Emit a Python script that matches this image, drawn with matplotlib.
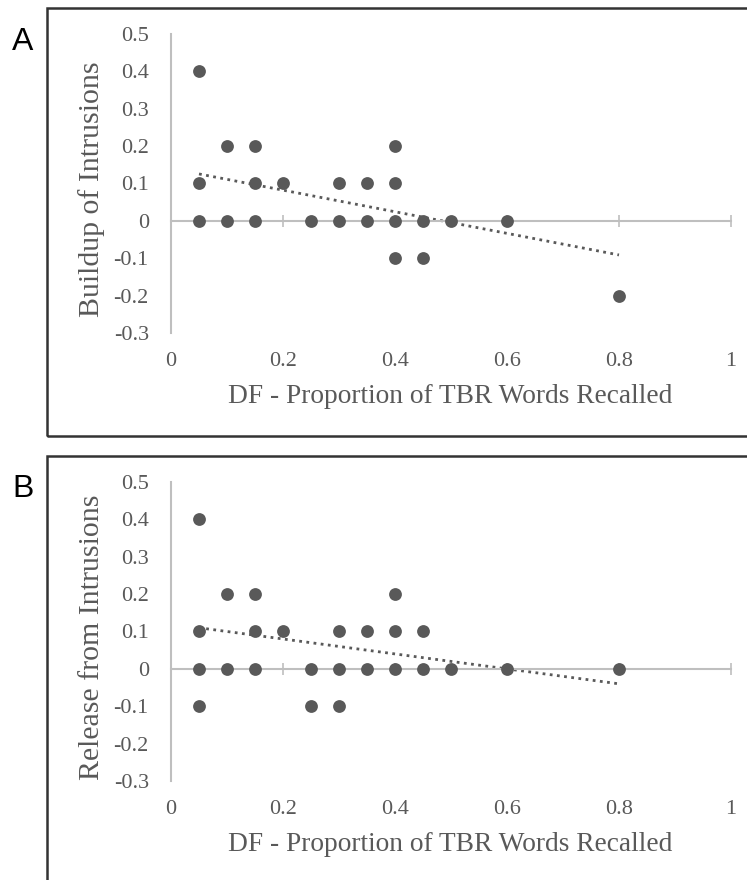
import matplotlib
matplotlib.use("Agg")
import matplotlib.pyplot as plt
from matplotlib.patches import Rectangle
import numpy as np

# Panel A: buildup of intrusions vs. DF proportion recalled
a_x = [0.05, 0.05, 0.05, 0.10, 0.10, 0.15, 0.15, 0.15, 0.20, 0.25,
       0.30, 0.30, 0.35, 0.35, 0.40, 0.40, 0.40, 0.40, 0.45, 0.45,
       0.50, 0.60, 0.80]
a_y = [0.4, 0.1, 0.0, 0.2, 0.0, 0.2, 0.1, 0.0, 0.1, 0.0,
       0.1, 0.0, 0.1, 0.0, 0.2, 0.1, 0.0, -0.1, 0.0, -0.1,
       0.0, 0.0, -0.2]
a_trend = (-0.289, 0.140)   # slope, intercept of linear trendline

# Panel B: release from intrusions vs. DF proportion recalled
b_x = [0.05, 0.05, 0.05, 0.05, 0.10, 0.10, 0.15, 0.15, 0.15, 0.20,
       0.25, 0.25, 0.30, 0.30, 0.30, 0.35, 0.35, 0.40, 0.40, 0.40,
       0.45, 0.45, 0.50, 0.60, 0.80]
b_y = [0.4, 0.1, 0.0, -0.1, 0.2, 0.0, 0.2, 0.1, 0.0, 0.1,
       0.0, -0.1, 0.1, 0.0, -0.1, 0.1, 0.0, 0.2, 0.1, 0.0,
       0.1, 0.0, 0.0, 0.0, 0.0]
b_trend = (-0.200, 0.120)

x_ticks = [0, 0.2, 0.4, 0.6, 0.8, 1]
x_tick_labels = ["0", "0.2", "0.4", "0.6", "0.8", "1"]
y_ticks = [0.5, 0.4, 0.3, 0.2, 0.1, 0, -0.1, -0.2, -0.3]
y_tick_labels = ["0.5", "0.4", "0.3", "0.2", "0.1", "0", "-0.1", "-0.2", "-0.3"]

x_label = "DF - Proportion of TBR Words Recalled"
panels = [
    ("A", "Buildup of Intrusions", a_x, a_y, a_trend),
    ("B", "Release from Intrusions", b_x, b_y, b_trend),
]

W, H = 747, 880
fig = plt.figure(figsize=(W / 100, H / 100), dpi=100)

TEXT = "#595959"
AXIS = "#bfbfbf"
MARK = "#595959"
SERIF = ["Liberation Serif", "DejaVu Serif"]

# pixel layout of each panel: (box_top, box_bottom, axes_top, axes_bottom)
layout = [
    (8.5, 436, 34, 333),
    (456, 900, 482, 781),
]
ax_left, ax_right = 171, 731


def fx(px):
    return px / W


def fy(py):
    return 1 - py / H


for (letter, ylab, xs, ys, trend), (bt, bb, at, ab) in zip(panels, layout):
    # surrounding frame
    fig.patches.append(Rectangle((fx(47), fy(bb)), fx(760 - 47), (bb - bt) / H,
                                 transform=fig.transFigure, fill=False,
                                 edgecolor="#333333", linewidth=1.8, zorder=0))
    fig.text(fx(23), fy((bt + 33)), letter, family=["Liberation Sans", "DejaVu Sans"],
             fontsize=23, color="black", ha="center", va="center")

    ax = fig.add_axes([fx(ax_left), fy(ab), fx(ax_right - ax_left), (ab - at) / H])
    ax.set_xlim(0, 1)
    ax.set_ylim(-0.3, 0.5)
    ax.patch.set_alpha(0)

    for s in ("top", "right"):
        ax.spines[s].set_visible(False)
    ax.spines["left"].set_color(AXIS)
    ax.spines["left"].set_linewidth(1.5)
    ax.spines["bottom"].set_position(("data", 0))
    ax.spines["bottom"].set_color(AXIS)
    ax.spines["bottom"].set_linewidth(1.5)

    ax.set_xticks(x_ticks)
    ax.tick_params(axis="x", direction="inout", length=9, width=1.2,
                   color=AXIS, labelbottom=False)
    ax.set_yticks(y_ticks)
    ax.set_yticklabels(y_tick_labels, family=SERIF, fontsize=16, color=TEXT)
    ax.tick_params(axis="y", length=0, pad=16)

    # x tick labels sit below the plot area
    sec = ax.secondary_xaxis(0.0)
    sec.spines["bottom"].set_visible(False)
    sec.set_xticks(x_ticks)
    sec.set_xticklabels(x_tick_labels, family=SERIF, fontsize=16, color=TEXT)
    sec.tick_params(length=0, pad=14)

    # axis titles
    fig.text(fx(450.5), fy(ab + 70), x_label, family=SERIF, fontsize=19.7,
             color=TEXT, ha="center", va="baseline")
    fig.text(fx(99), fy(at + 155), ylab, family=SERIF, fontsize=21.5,
             color=TEXT, ha="center", va="baseline", rotation=90,
             rotation_mode="anchor")

    ax.scatter(xs, ys, s=85, color=MARK, zorder=3, linewidths=0)

    slope, intercept = trend
    tx = np.array([min(xs), max(xs)])
    ax.plot(tx, slope * tx + intercept, linestyle=(0, (1, 1.6)),
            color=MARK, linewidth=2.0, zorder=2)

fig.savefig("out.png", dpi=100)
